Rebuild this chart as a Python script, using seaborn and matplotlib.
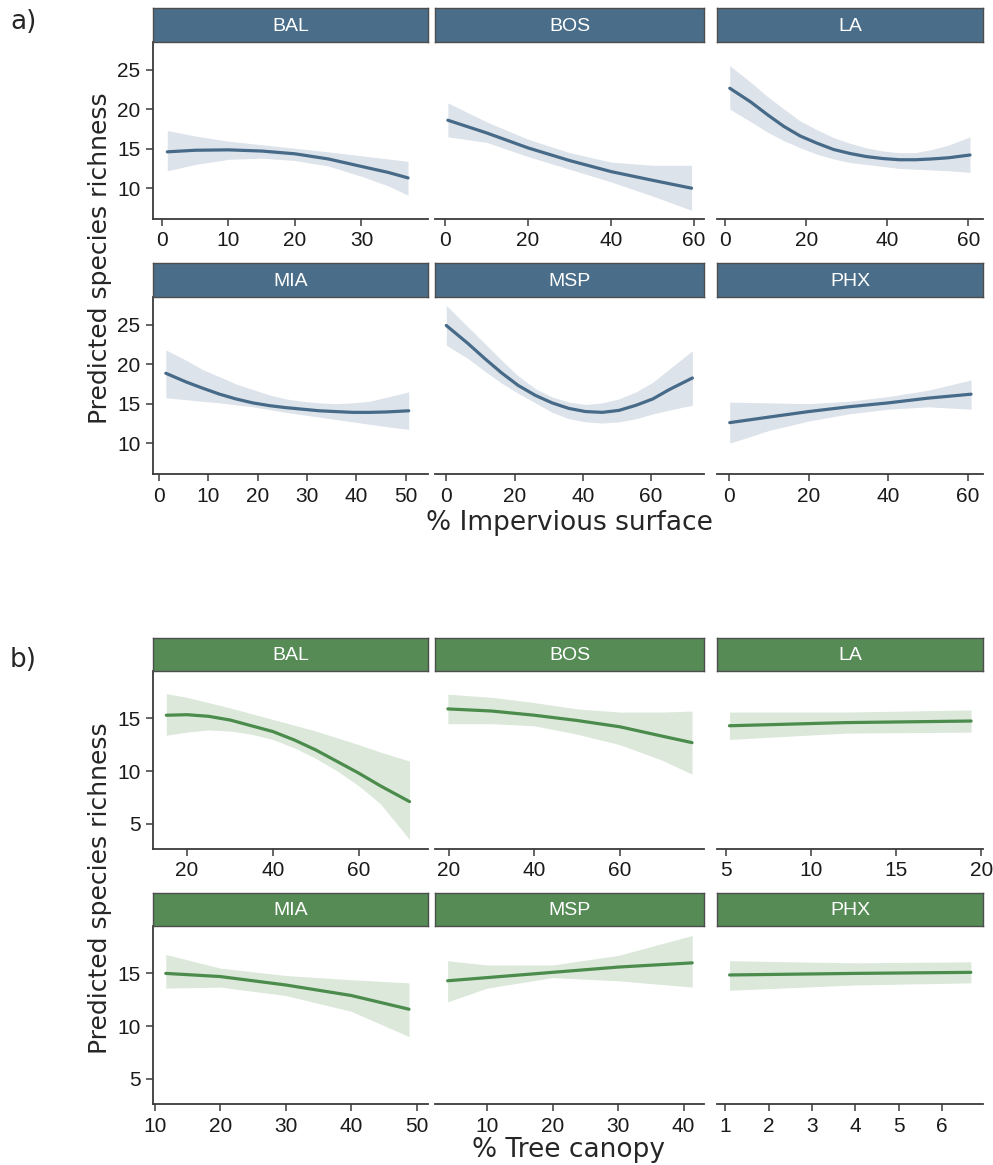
#!/usr/bin/env python3

from matplotlib import pyplot as plt
import seaborn as sns

CITIES = ["BAL", "BOS", "LA", "MIA", "MSP", "PHX"]

# a) % impervious surface: x, fitted richness, lower / upper CI
imp_bal_x = [0.8, 5, 10, 15, 20, 25, 30, 34, 37]
imp_bal_fit = [14.6, 14.8, 14.85, 14.7, 14.35, 13.7, 12.75, 12.0, 11.3]
imp_bal_lo = [12.2, 13.0, 13.65, 13.8, 13.5, 12.8, 11.5, 10.3, 9.1]
imp_bal_hi = [17.3, 16.6, 15.95, 15.5, 15.05, 14.6, 14.1, 13.7, 13.4]

imp_bos_x = [0.7, 10, 20, 30, 40, 50, 59.4]
imp_bos_fit = [18.6, 17.0, 15.1, 13.5, 12.1, 11.0, 10.0]
imp_bos_lo = [16.5, 15.8, 14.0, 12.4, 10.8, 9.0, 7.2]
imp_bos_hi = [20.8, 18.4, 16.2, 14.5, 13.3, 12.9, 12.9]

imp_la_x = [1.1, 6.3, 10.4, 14.5, 18.5, 22.6, 26.7, 30.7, 34.8, 38.9, 42.9,
            47.0, 51.0, 55.1, 60.4]
imp_la_fit = [22.65, 20.9, 19.3, 17.8, 16.6, 15.7, 14.9, 14.4, 14.0, 13.75,
              13.6, 13.6, 13.7, 13.85, 14.2]
imp_la_lo = [20.0, 18.4, 17.1, 16.0, 15.1, 14.3, 13.7, 13.25, 13.0, 12.75,
             12.5, 12.4, 12.3, 12.2, 12.0]
imp_la_hi = [25.5, 23.4, 21.6, 20.0, 18.5, 17.4, 16.4, 15.7, 15.1, 14.7,
             14.5, 14.5, 14.9, 15.45, 16.5]

imp_mia_x = [1.4, 5.5, 8.9, 12.3, 15.6, 19.0, 22.4, 25.7, 29.1, 32.5, 35.8,
             39.2, 42.6, 46.0, 50.6]
imp_mia_fit = [18.85, 17.75, 16.95, 16.2, 15.6, 15.1, 14.75, 14.5, 14.3, 14.1,
               14.0, 13.9, 13.9, 13.95, 14.1]
imp_mia_lo = [15.75, 15.5, 15.3, 15.1, 14.85, 14.6, 14.25, 13.9, 13.6, 13.3,
              13.0, 12.7, 12.4, 12.1, 11.75]
imp_mia_hi = [21.8, 20.5, 19.3, 18.4, 17.5, 16.8, 16.1, 15.6, 15.3, 15.1,
              15.0, 15.1, 15.3, 15.8, 16.5]

imp_msp_x = [0.0, 6.4, 11.3, 16.2, 21.1, 26.1, 31.0, 35.9, 40.8, 45.7, 50.6,
             55.6, 60.5, 65.4, 72.1]
imp_msp_fit = [24.9, 22.6, 20.7, 18.9, 17.3, 16.05, 15.1, 14.4, 14.0, 13.9,
               14.15, 14.8, 15.6, 16.8, 18.25]
imp_msp_lo = [22.4, 20.7, 19.1, 17.6, 16.3, 15.1, 13.9, 13.1, 12.7, 12.55,
              12.7, 13.1, 13.7, 14.2, 14.8]
imp_msp_hi = [27.45, 24.7, 22.6, 20.5, 18.5, 16.9, 15.85, 15.2, 14.9, 15.1,
              15.6, 16.5, 17.7, 19.4, 21.7]

imp_phx_x = [0.2, 10, 20, 30, 40, 50, 60.8]
imp_phx_fit = [12.6, 13.3, 14.0, 14.6, 15.1, 15.7, 16.2]
imp_phx_lo = [10.0, 11.6, 12.8, 13.7, 14.3, 14.6, 14.3]
imp_phx_hi = [15.2, 15.1, 15.0, 15.3, 15.9, 16.7, 18.0]

# b) % tree canopy
can_bal_x = [15.2, 20, 25, 30, 35, 40, 45, 50, 55, 60, 65, 71.8]
can_bal_fit = [15.3, 15.35, 15.2, 14.85, 14.3, 13.75, 12.95, 12.0, 10.9, 9.8,
               8.6, 7.1]
can_bal_lo = [13.4, 13.7, 13.9, 13.8, 13.5, 13.0, 12.2, 11.2, 10.0, 8.6,
              6.9, 3.5]
can_bal_hi = [17.35, 17.0, 16.5, 16.0, 15.45, 14.9, 14.35, 13.8, 13.15, 12.5,
              11.8, 10.95]

can_bos_x = [19.8, 30, 40, 50, 60, 70, 76.8]
can_bos_fit = [15.9, 15.7, 15.3, 14.8, 14.2, 13.3, 12.7]
can_bos_lo = [14.5, 14.5, 14.3, 13.5, 12.5, 11.0, 9.7]
can_bos_hi = [17.3, 17.0, 16.5, 15.9, 15.6, 15.6, 15.7]

can_la_x = [5.2, 12, 19.4]
can_la_fit = [14.3, 14.6, 14.75]
can_la_lo = [13.0, 13.6, 13.7]
can_la_hi = [15.6, 15.6, 15.8]

can_mia_x = [11.7, 20, 30, 40, 48.8]
can_mia_fit = [15.0, 14.7, 13.9, 12.9, 11.6]
can_mia_lo = [13.6, 13.7, 12.9, 11.4, 9.0]
can_mia_hi = [16.8, 15.5, 14.8, 14.4, 14.1]

can_msp_x = [4.0, 10, 20, 30, 41.3]
can_msp_fit = [14.3, 14.6, 15.1, 15.6, 16.0]
can_msp_lo = [12.3, 13.6, 14.6, 14.3, 13.7]
can_msp_hi = [16.2, 15.8, 15.8, 16.7, 18.6]

can_phx_x = [1.1, 4, 6.66]
can_phx_fit = [14.85, 15.0, 15.1]
can_phx_lo = [13.4, 13.9, 14.1]
can_phx_hi = [16.2, 16.0, 16.1]

imp_xticks = [[0, 10, 20, 30], [0, 20, 40, 60], [0, 20, 40, 60],
              [0, 10, 20, 30, 40, 50], [0, 20, 40, 60], [0, 20, 40, 60]]
can_xticks = [[20, 40, 60], [20, 40, 60], [5, 10, 15, 20],
              [10, 20, 30, 40, 50], [10, 20, 30, 40], [1, 2, 3, 4, 5, 6]]
imp_yticks = [10, 15, 20, 25]
can_yticks = [5, 10, 15]

W, H = 993, 1165
COLS = [(153, 428), (435, 704), (717, 983)]


def add_box(fig, x0, x1, y0, y1):
    return fig.add_axes([x0 / W, 1 - y1 / H, (x1 - x0) / W, (y1 - y0) / H])


def draw_panel(fig, data, rows, ylim, yticks, xlims, xticks,
               line_col, band_col, strip_col):
    for i, city in enumerate(CITIES):
        r, c = divmod(i, 3)
        strip_top, ax_top, ax_bot = rows[r]
        x0, x1 = COLS[c]
        xs, fit, lo, hi = data[i]

        ax = add_box(fig, x0, x1, ax_top, ax_bot)
        ax.fill_between(xs, lo, hi, color=band_col, lw=0)
        sns.lineplot(x=xs, y=fit, ax=ax, color=line_col, lw=2.3)
        ax.set(xlim=xlims[i], ylim=ylim, xlabel="", ylabel="")
        ax.set_xticks(xticks[i])
        for sp in ["top", "right"]:
            ax.spines[sp].set_visible(False)
        for sp in ["left", "bottom"]:
            ax.spines[sp].set_color("#3a3a3a")
            ax.spines[sp].set_linewidth(1.3)
        ax.tick_params(direction="out", length=5, width=1.1, color="#3a3a3a",
                       labelsize=15, labelcolor="#1a1a1a", pad=4,
                       labelfontfamily="Liberation Sans")
        if c == 0:
            ax.set_yticks(yticks)
        else:
            ax.spines["left"].set_visible(False)
            ax.set_yticks([])

        st = add_box(fig, x0, x1, strip_top, ax_top)
        st.set_facecolor(strip_col)
        st.set_xticks([])
        st.set_yticks([])
        for sp in st.spines.values():
            sp.set_color("#4d4d4d")
            sp.set_linewidth(1.0)
        st.text(0.5, 0.47, city, ha="center", va="center", color="white",
                fontsize=14, family="Liberation Sans", transform=st.transAxes)


def main():
    sns.set_theme(style="ticks")
    plt.rcParams["font.family"] = ["DejaVu Sans"]
    fig = plt.figure(figsize=(9.93, 11.65), dpi=100)

    imp_data = [
        (imp_bal_x, imp_bal_fit, imp_bal_lo, imp_bal_hi),
        (imp_bos_x, imp_bos_fit, imp_bos_lo, imp_bos_hi),
        (imp_la_x, imp_la_fit, imp_la_lo, imp_la_hi),
        (imp_mia_x, imp_mia_fit, imp_mia_lo, imp_mia_hi),
        (imp_msp_x, imp_msp_fit, imp_msp_lo, imp_msp_hi),
        (imp_phx_x, imp_phx_fit, imp_phx_lo, imp_phx_hi),
    ]
    can_data = [
        (can_bal_x, can_bal_fit, can_bal_lo, can_bal_hi),
        (can_bos_x, can_bos_fit, can_bos_lo, can_bos_hi),
        (can_la_x, can_la_fit, can_la_lo, can_la_hi),
        (can_mia_x, can_mia_fit, can_mia_lo, can_mia_hi),
        (can_msp_x, can_msp_fit, can_msp_lo, can_msp_hi),
        (can_phx_x, can_phx_fit, can_phx_lo, can_phx_hi),
    ]

    imp_xlims = [(-1.35, 40), (-2.4, 62.4), (-2.05, 63.6),
                 (-1.2, 54.5), (-3.3, 75.5), (-3.0, 63.8)]
    can_xlims = [(12.1, 76.1), (16.8, 79.6), (4.47, 20.1),
                 (9.75, 51.7), (2.07, 43.1), (0.81, 6.94)]

    draw_panel(fig, imp_data, [(8, 42, 219), (263, 297, 474)],
               (6.1, 28.5), imp_yticks, imp_xlims, imp_xticks,
               "#466a88", "#dde3ea", "#4a6e8a")
    draw_panel(fig, can_data, [(638, 671, 849), (893, 926, 1104)],
               (2.6, 19.5), can_yticks, can_xlims, can_xticks,
               "#4b8b4b", "#dbe8da", "#568b56")

    fig.text(10 / W, 1 - 22 / H, "a)", fontsize=19, va="center")
    fig.text(10 / W, 1 - 660 / H, "b)", fontsize=19, va="center")
    fig.text(100 / W, 1 - 258 / H, "Predicted species richness",
             rotation=90, fontsize=18, ha="center", va="center")
    fig.text(100 / W, 1 - 888 / H, "Predicted species richness",
             rotation=90, fontsize=18, ha="center", va="center")
    fig.text(569 / W, 1 - 523 / H, "% Impervious surface",
             fontsize=19, ha="center", va="center")
    fig.text(569 / W, 1 - 1150 / H, "% Tree canopy",
             fontsize=19, ha="center", va="center")

    fig.savefig("out.png", dpi=100)


if __name__ == "__main__":
    main()
